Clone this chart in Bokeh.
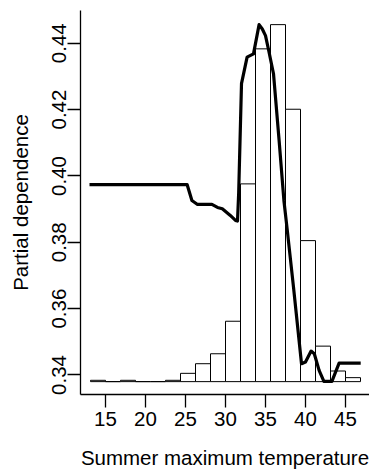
from bokeh.plotting import figure
from bokeh.models import Range1d, FixedTicker, ColumnDataSource
from bokeh.embed import file_html
from bokeh.resources import INLINE

# Histogram of summer maximum temperature (bar tops drawn on partial-dependence scale)
bin_edges = [13.125, 15.0, 16.875, 18.75, 20.625, 22.5, 24.375, 26.25, 28.125, 30.0,
             31.875, 33.75, 35.625, 37.5, 39.375, 41.25, 43.125, 45.0, 46.875]
bar_tops = [0.3384, 0.3380, 0.3384, 0.3380, 0.3380, 0.3384, 0.3405, 0.3434, 0.3464,
            0.3562, 0.3976, 0.4383, 0.4456, 0.4201, 0.3805, 0.3487, 0.3412, 0.3392]
bar_base = 0.3380

# Partial dependence curve
pd_x = [13.0, 25.2, 25.8, 26.5, 27.5, 28.3, 29.0, 29.6, 30.6, 31.25, 31.5, 31.65,
        32.0, 32.7, 33.5, 34.2, 34.6, 35.0, 35.4, 36.0, 36.7, 37.3, 37.7, 38.5,
        39.5, 40.0, 40.7, 41.1, 41.7, 42.3, 43.3, 44.2, 46.9]
pd_y = [0.3974, 0.3974, 0.3926, 0.3914, 0.3914, 0.3914, 0.3905, 0.3901, 0.3881,
        0.3866, 0.3864, 0.3950, 0.4278, 0.4358, 0.4368, 0.4456, 0.4443, 0.4423,
        0.4378, 0.4308, 0.4107, 0.3926, 0.3841, 0.3665, 0.3434, 0.3439, 0.3472,
        0.3464, 0.3414, 0.3381, 0.3381, 0.3436, 0.3436]

x_ticks = [15, 20, 25, 30, 35, 40, 45]
y_ticks = [0.34, 0.36, 0.38, 0.40, 0.42, 0.44]
y_tick_labels = ["0.34", "0.36", "0.38", "0.40", "0.42", "0.44"]

FONT = "Liberation Sans"

p = figure(width=369, height=474, output_backend="svg", toolbar_location=None,
           x_range=Range1d(11.875, 48.0), y_range=Range1d(0.33412, 0.44986),
           min_border_left=80, min_border_right=0, min_border_top=10,
           min_border_bottom=80)
p.outline_line_color = None
p.xgrid.visible = False
p.ygrid.visible = False
p.background_fill_color = "white"
p.border_fill_color = "white"

hist = ColumnDataSource(dict(left=bin_edges[:-1], right=bin_edges[1:],
                             top=bar_tops, bottom=[bar_base] * len(bar_tops)))
p.quad(left="left", right="right", top="top", bottom="bottom", source=hist,
       fill_color="white", line_color="black", line_width=1)

p.line(pd_x, pd_y, line_color="black", line_width=3.2, line_join="round")

for ax in (p.xaxis[0], p.yaxis[0]):
    ax.axis_line_color = "black"
    ax.axis_line_width = 1.3
    ax.major_tick_line_color = "black"
    ax.major_tick_line_width = 1.3
    ax.major_tick_out = 13
    ax.major_tick_in = 0
    ax.minor_tick_line_color = None
    ax.major_label_text_font = FONT
    ax.major_label_text_font_size = "20.5px"
    ax.major_label_text_color = "black"
    ax.axis_label_text_font = FONT
    ax.axis_label_text_font_size = "20.5px"
    ax.axis_label_text_font_style = "normal"
    ax.axis_label_text_color = "black"

p.xaxis.ticker = FixedTicker(ticks=x_ticks)
p.yaxis.ticker = FixedTicker(ticks=y_ticks)
p.yaxis.major_label_overrides = {t: l for t, l in zip(y_ticks, y_tick_labels)}
p.yaxis.major_label_orientation = "vertical"
p.xaxis.major_label_standoff = 4
p.yaxis.major_label_standoff = 1
p.xaxis.axis_label = "Summer maximum temperature"
p.yaxis.axis_label = "Partial dependence"
p.xaxis.axis_label_standoff = 17
p.yaxis.axis_label_standoff = 18

open("out.html", "w").write(file_html(p, INLINE))
